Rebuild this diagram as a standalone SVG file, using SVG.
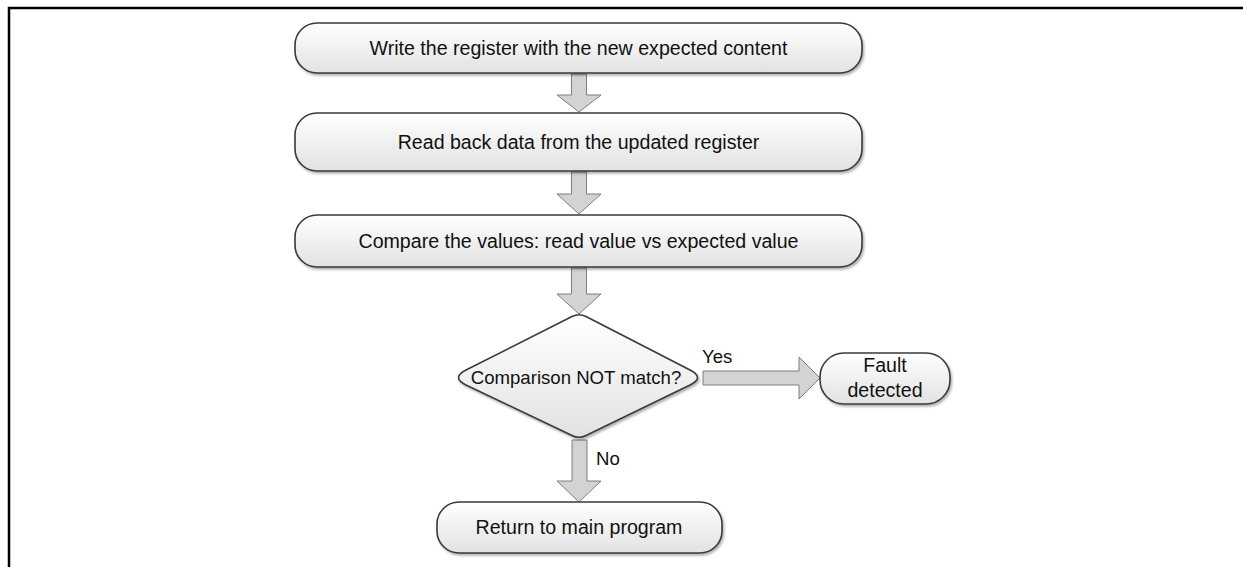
<svg xmlns="http://www.w3.org/2000/svg" width="1243" height="567" viewBox="0 0 1243 567">
<defs>
<linearGradient id="g" x1="0" y1="0" x2="0" y2="1">
<stop offset="0" stop-color="#ffffff"/>
<stop offset="1" stop-color="#e2e2e2"/>
</linearGradient>
<filter id="sh" x="-10%" y="-20%" width="120%" height="150%">
<feDropShadow dx="1.5" dy="2" stdDeviation="1.2" flood-color="#000" flood-opacity="0.3"/>
</filter>
</defs>
<style>
.node{fill:url(#g);stroke:#3a3a3a;stroke-width:1.6;filter:url(#sh)}
.arr{fill:#d3d3d3;stroke:#7f7f7f;stroke-width:1}
text{font-family:"Liberation Sans",Arial,sans-serif;font-size:19.6px;fill:#111}
.c{text-anchor:middle}
.s{font-size:18.6px}
</style>
<rect width="1243" height="567" fill="#fff"/>
<path d="M9,567 V8 H1243" fill="none" stroke="#000" stroke-width="2.5"/>
<g id="connectors">
<polygon class="arr" points="571.5,74 586.5,74 586.5,95 601,95 579,112 557,95 571.5,95"/>
<polygon class="arr" points="571.5,172 586.5,172 586.5,194 601,194 579,214 557,194 571.5,194"/>
<polygon class="arr" points="571.5,268 586.5,268 586.5,294 601,294 579,314 557,294 571.5,294"/>
<polygon class="arr" points="572,440 587,440 587,481 601,481 579,502 557,481 572,481"/>
<polygon class="arr" points="703,371 799,371 799,357 820,378 799,399 799,385 703,385"/>
<text class="s" x="702" y="363">Yes</text>
<text class="s" x="596" y="465">No</text>
</g>
<g id="n1">
<rect class="node" x="295" y="23" width="567" height="50" rx="22"/>
<text class="c" x="578.5" y="55">Write the register with the new expected content</text>
</g>
<g id="n2">
<rect class="node" x="295" y="113" width="567" height="58" rx="22"/>
<text class="c" x="578.5" y="149">Read back data from the updated register</text>
</g>
<g id="n3">
<rect class="node" x="295" y="215" width="567" height="52" rx="22"/>
<text class="c" x="578.5" y="248">Compare the values: read value vs expected value</text>
</g>
<g id="n4">
<path class="node" d="M572,316.5 Q579,313 586,316.5 L690,370 Q705,377.5 690,385 L586,435.5 Q579,439 572,435.5 L466,385 Q451,377.5 466,370 Z"/>
<text class="c s" x="576" y="384">Comparison NOT match?</text>
</g>
<g id="n5">
<rect class="node" x="820" y="353" width="130" height="51" rx="24"/>
<text class="c" x="885" y="372">Fault</text>
<text class="c" x="885" y="397">detected</text>
</g>
<g id="n6">
<rect class="node" x="437" y="502" width="285" height="51" rx="22"/>
<text class="c" x="579" y="534">Return to main program</text>
</g>
</svg>
